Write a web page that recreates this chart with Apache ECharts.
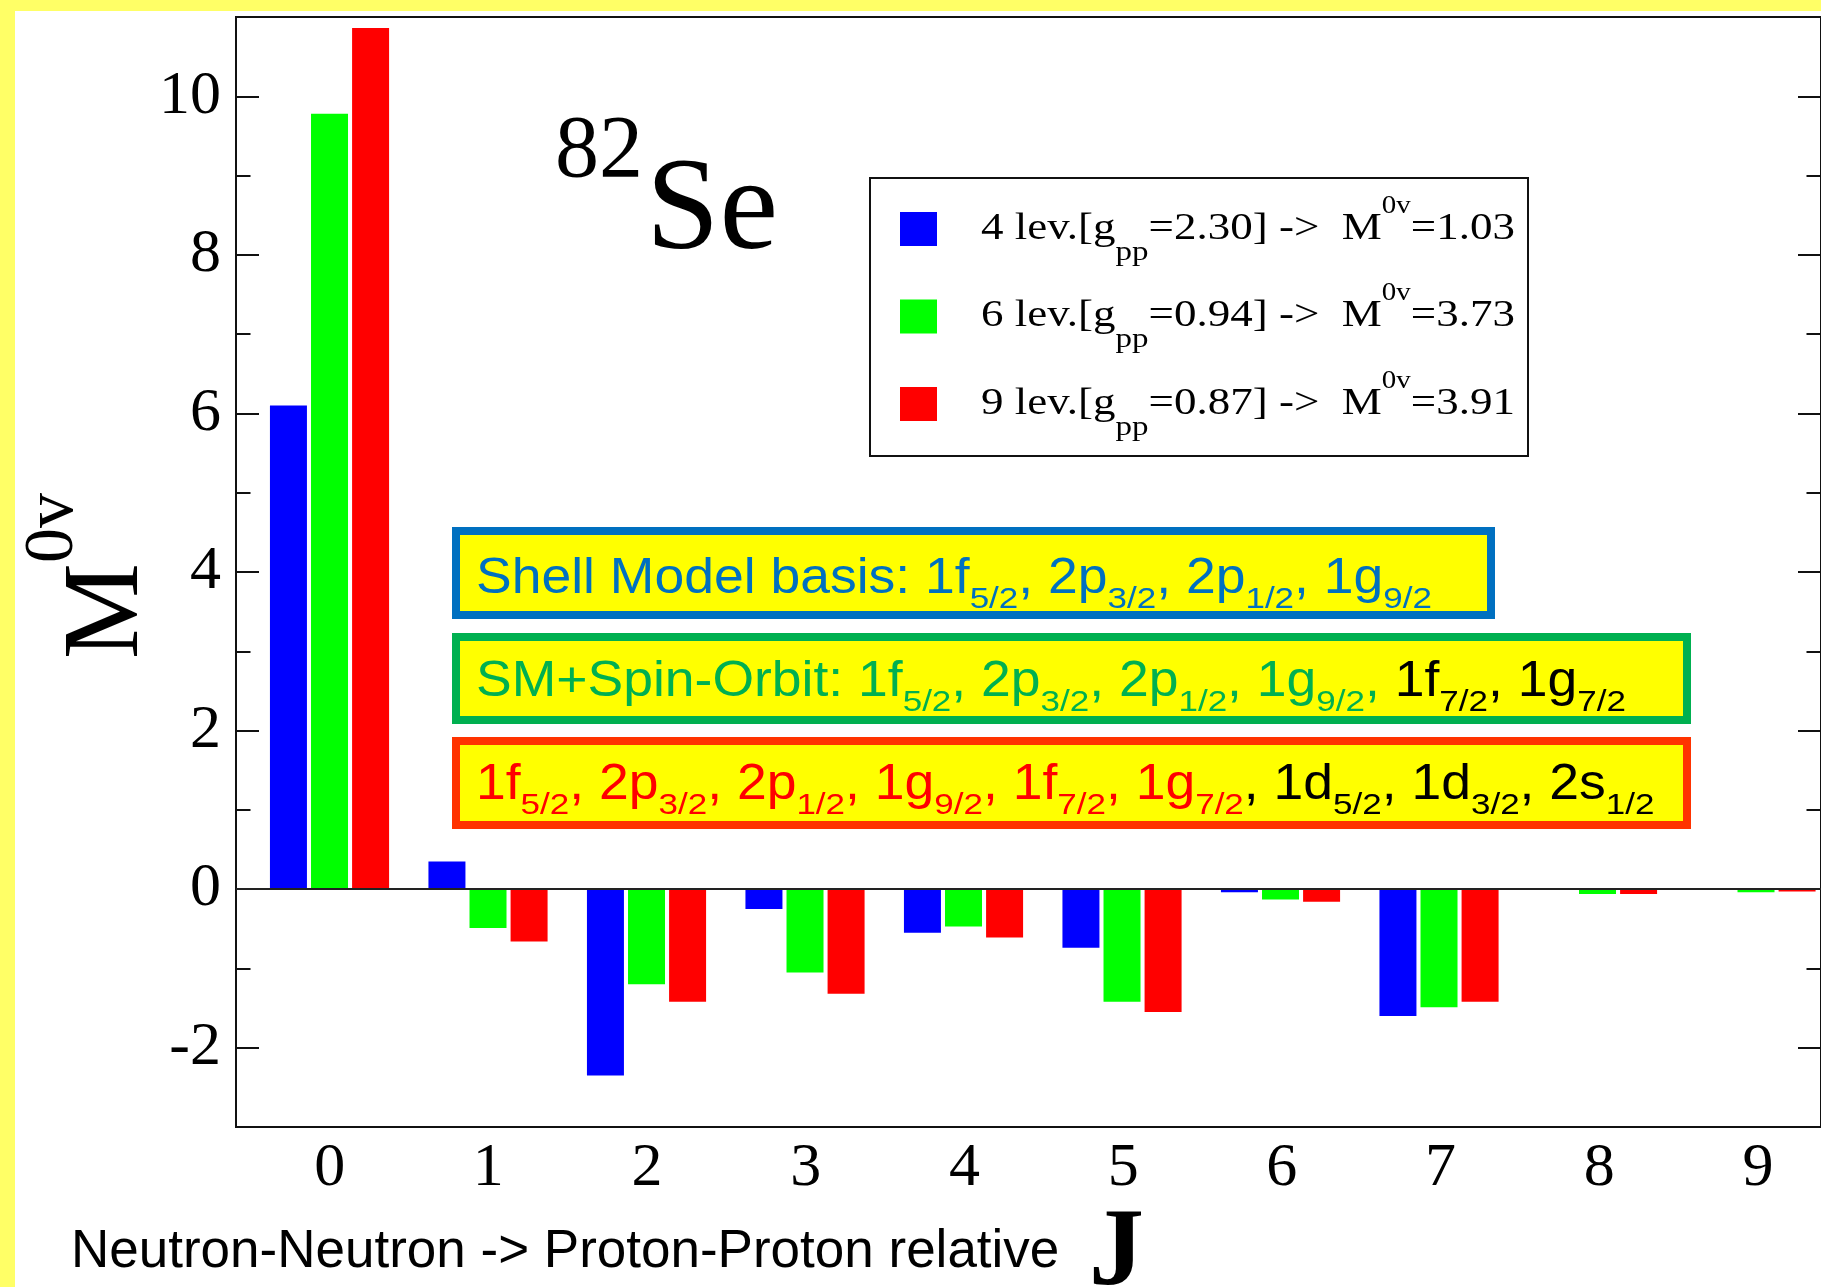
<!DOCTYPE html>
<html>
<head>
<meta charset="utf-8">
<script src="https://cdn.jsdelivr.net/npm/echarts@6/dist/echarts.min.js"></script>
<style>
  html, body { margin: 0; padding: 0; background: #fff; }
  #chart { width: 1821px; height: 1287px; }
</style>
</head>
<body>
<div id="chart"></div>
<script>
// Relative angular momentum J of the nucleon pair
const J = [0, 1, 2, 3, 4, 5, 6, 7, 8, 9];

// M^0v decomposition over J for the three model spaces
const lev4 = [6.10, 0.35, -2.35, -0.25, -0.55, -0.74, -0.04, -1.60, -0.01, -0.01];
const lev6 = [9.78, -0.49, -1.20, -1.05, -0.47, -1.42, -0.13, -1.49, -0.06, -0.04];
const lev9 = [10.86, -0.66, -1.42, -1.32, -0.61, -1.55, -0.16, -1.42, -0.06, -0.03];

// Legend entries: number of levels, g_pp and total matrix element
const levels = [4, 6, 9];
const gppValues = ['2.30', '0.94', '0.87'];
const mTotals = ['1.03', '3.73', '3.91'];
const seriesNames = levels.map((n, i) => n + ' lev. g_pp=' + gppValues[i]);

// Axis ranges and labelled y ticks
const xRange = [-0.59, 9.41];
const yRange = [-3, 11];
const yTickLabels = [-2, 0, 2, 4, 6, 8, 10];

const COLORS = ['#0000FF', '#00FF00', '#FF0000'];
const SERIF = 'Liberation Serif';
const SANS = 'Liberation Sans';

// Plot frame in pixels
const PLOT = { left: 236, top: 17, width: 1587, height: 1110 };
const unitX = PLOT.width / (xRange[1] - xRange[0]);
const unitY = PLOT.height / (yRange[1] - yRange[0]);
const majorGrid = {
  left: PLOT.left, width: PLOT.width,
  top: PLOT.top + (yRange[1] - yTickLabels[yTickLabels.length - 1]) * unitY,
  height: (yTickLabels[yTickLabels.length - 1] - yTickLabels[0]) * unitY
};
const labelGrid = {
  left: PLOT.left + (J[0] - xRange[0]) * unitX,
  width: (J[J.length - 1] - J[0]) * unitX,
  top: PLOT.top, height: PLOT.height
};

// ---- rich text runs (sub/superscripts) placed with measured widths ----
// distance from the canvas "middle" baseline up to the alphabetic baseline, per px of font size
const MID = { [SERIF]: 0.28, [SANS]: 0.28 };
const mctx = document.createElement('canvas').getContext('2d');

function parseMarkup(str) {
  // "1f_{5/2}" -> [['1f','n'],['5/2','sub']] ; "M^{0v}" -> sup
  const out = [];
  const re = /([_^])\{([^}]*)\}/g;
  let last = 0, m;
  while ((m = re.exec(str)) !== null) {
    if (m.index > last) out.push([str.slice(last, m.index), 'n']);
    out.push([m[2], m[1] === '_' ? 'sub' : 'sup']);
    last = re.lastIndex;
  }
  if (last < str.length) out.push([str.slice(last), 'n']);
  return out;
}

function textRuns(x0, base, family, pieces, st, weight) {
  // pieces: [[markup, color], ...]; st: sizes/offsets for n, sub, sup
  weight = weight || 'normal';
  const els = [];
  let x = x0;
  pieces.forEach(([markup, color]) => {
    parseMarkup(markup).forEach(([text, kind]) => {
      const s = st[kind];
      mctx.font = weight + ' ' + s.size + 'px "' + family + '"';
      els.push({
        type: 'text', x: x, y: base + (s.dy || 0), scaleY: s.sy || 1, z: 60,
        style: {
          x: 0, y: -MID[family] * s.size, text: text,
          fontSize: s.size, fontFamily: family, fontWeight: weight,
          fill: color, align: 'left', verticalAlign: 'middle'
        }
      });
      x += mctx.measureText(text).width;
    });
  });
  return els;
}

const graphics = [];

// yellow page border
graphics.push({ type: 'rect', shape: { x: 0, y: 0, width: 1821, height: 11 }, style: { fill: '#FFFF66' }, z: 1 });
graphics.push({ type: 'rect', shape: { x: 0, y: 0, width: 15, height: 1287 }, style: { fill: '#FFFF66' }, z: 1 });

// nucleus label
graphics.push(...textRuns(555, 178, SERIF, [['82', '#000']], { n: { size: 88 } }));
graphics.push(...textRuns(646, 250, SERIF, [['Se', '#000']], { n: { size: 132 } }));

// legend frame and entry texts
graphics.push({ type: 'rect', shape: { x: 870, y: 178, width: 658, height: 278 },
  style: { fill: 'none', stroke: '#111', lineWidth: 2 }, z: 40 });
const legendBase = [240, 327, 415];
const legendStyle = {
  n: { size: 45, sy: 0.85 },
  sub: { size: 33, dy: 20, sy: 0.85 },
  sup: { size: 29, dy: -27, sy: 0.85 }
};
levels.forEach((n, i) => {
  const markup = n + ' lev.[g_{pp}=' + gppValues[i] + '] ->  M^{0v}=' + mTotals[i];
  graphics.push(...textRuns(981, legendBase[i], SERIF, [[markup, '#000']], legendStyle));
});

// model-space annotation boxes
const boxStyle = {
  n: { size: 53.5, sy: 0.95 },
  sub: { size: 35, dy: 15, sy: 0.85 },
  sup: { size: 35, dy: -20, sy: 0.85 }
};
const boxes = [
  { rect: [456, 531, 1035, 84], stroke: '#0070C0', base: 593,
    pieces: [['Shell Model basis: 1f_{5/2}, 2p_{3/2}, 2p_{1/2}, 1g_{9/2}', '#0070C0']] },
  { rect: [456, 637, 1231, 83], stroke: '#00B050', base: 696,
    pieces: [['SM+Spin-Orbit: 1f_{5/2}, 2p_{3/2}, 2p_{1/2}, 1g_{9/2},', '#00B050'],
             [' 1f_{7/2}, 1g_{7/2}', '#000']] },
  { rect: [456, 741, 1231, 84], stroke: '#FF3300', base: 799,
    pieces: [['1f_{5/2}, 2p_{3/2}, 2p_{1/2}, 1g_{9/2}, 1f_{7/2}, 1g_{7/2}', '#FF0000'],
             [', 1d_{5/2}, 1d_{3/2}, 2s_{1/2}', '#000']] }
];
boxes.forEach(b => {
  graphics.push({ type: 'rect', z: 45,
    shape: { x: b.rect[0], y: b.rect[1], width: b.rect[2], height: b.rect[3] },
    style: { fill: '#FFFF00', stroke: b.stroke, lineWidth: 8 } });
  graphics.push(...textRuns(476, b.base, SANS, b.pieces, boxStyle));
});

// axis titles
graphics.push({
  type: 'group', x: 139, y: 659, rotation: Math.PI / 2, z: 60,
  children: textRuns(0, 0, SERIF, [['M^{0v}', '#000']],
    { n: { size: 108 }, sup: { size: 70, dy: -66 } })
});
graphics.push(...textRuns(71, 1267, SANS, [['Neutron-Neutron -> Proton-Proton relative', '#000']], { n: { size: 53 } }));
graphics.push(...textRuns(1089, 1286, SERIF, [['J', '#000']], { n: { size: 110 } }, 'bold'));

const hidden = { show: false };
const noLine = { show: false, onZero: false };
const tickStyle = { color: '#111', width: 2 };

const option = {
  animation: false,
  backgroundColor: '#FFFFFF',
  grid: [
    { left: PLOT.left, top: PLOT.top, width: PLOT.width, height: PLOT.height,
      show: true, borderColor: '#111', borderWidth: 2, backgroundColor: 'transparent' },
    { left: majorGrid.left, top: majorGrid.top, width: majorGrid.width, height: majorGrid.height },
    { left: labelGrid.left, top: labelGrid.top, width: labelGrid.width, height: labelGrid.height }
  ],
  xAxis: [
    { gridIndex: 0, type: 'value', min: xRange[0], max: xRange[1],
      axisLine: noLine, axisTick: hidden, axisLabel: hidden, splitLine: hidden },
    { gridIndex: 1, type: 'value', min: 0, max: 1, show: false, axisLine: noLine },
    { gridIndex: 2, type: 'value', min: J[0], max: J[J.length - 1], interval: 1,
      axisLine: noLine, axisTick: hidden, splitLine: hidden,
      axisLabel: { fontFamily: SERIF, fontSize: 62, color: '#000', margin: 11 } }
  ],
  yAxis: [
    // unit (minor) ticks on both sides of the frame
    { gridIndex: 0, type: 'value', min: yRange[0], max: yRange[1], interval: 1, position: 'left',
      axisLine: noLine, axisLabel: hidden, splitLine: hidden,
      axisTick: { inside: true, length: 14.5, lineStyle: tickStyle } },
    { gridIndex: 0, type: 'value', min: yRange[0], max: yRange[1], interval: 1, position: 'right',
      axisLine: noLine, axisLabel: hidden, splitLine: hidden,
      axisTick: { inside: true, length: 14.5, lineStyle: tickStyle } },
    // labelled major ticks
    { gridIndex: 1, type: 'value', min: yTickLabels[0], max: yTickLabels[yTickLabels.length - 1],
      interval: 2, position: 'left', axisLine: noLine, splitLine: hidden,
      axisTick: { inside: true, length: 23, lineStyle: tickStyle },
      axisLabel: { fontFamily: SERIF, fontSize: 62, color: '#000', margin: 15 } },
    { gridIndex: 1, type: 'value', min: yTickLabels[0], max: yTickLabels[yTickLabels.length - 1],
      interval: 2, position: 'right', axisLine: noLine, splitLine: hidden, axisLabel: hidden,
      axisTick: { inside: true, length: 23, lineStyle: tickStyle } },
    { gridIndex: 2, type: 'value', min: 0, max: 1, show: false, axisLine: noLine }
  ],
  legend: {
    left: 900, top: 212, orient: 'vertical', padding: 0,
    itemWidth: 37, itemHeight: 34, itemGap: 53.5, icon: 'rect',
    selectedMode: false, data: seriesNames,
    formatter: () => '', textStyle: { fontSize: 1 }
  },
  graphic: graphics,
  series: [lev4, lev6, lev9].map((vals, i) => {
    const s = {
      type: 'bar', name: seriesNames[i], xAxisIndex: 0, yAxisIndex: 0,
      data: J.map((j, k) => [j, vals[k]]),
      barWidth: 37, barGap: '11%',
      itemStyle: { color: COLORS[i] }
    };
    if (i === 2) {
      s.markLine = {
        silent: true, symbol: ['none', 'none'],
        label: { show: false },
        lineStyle: { color: '#222', width: 2, type: 'solid' },
        data: [{ yAxis: 0 }]
      };
    }
    return s;
  })
};

const chart = echarts.init(document.getElementById('chart'), null, { renderer: 'canvas' });
chart.setOption(option);
</script>
</body>
</html>
